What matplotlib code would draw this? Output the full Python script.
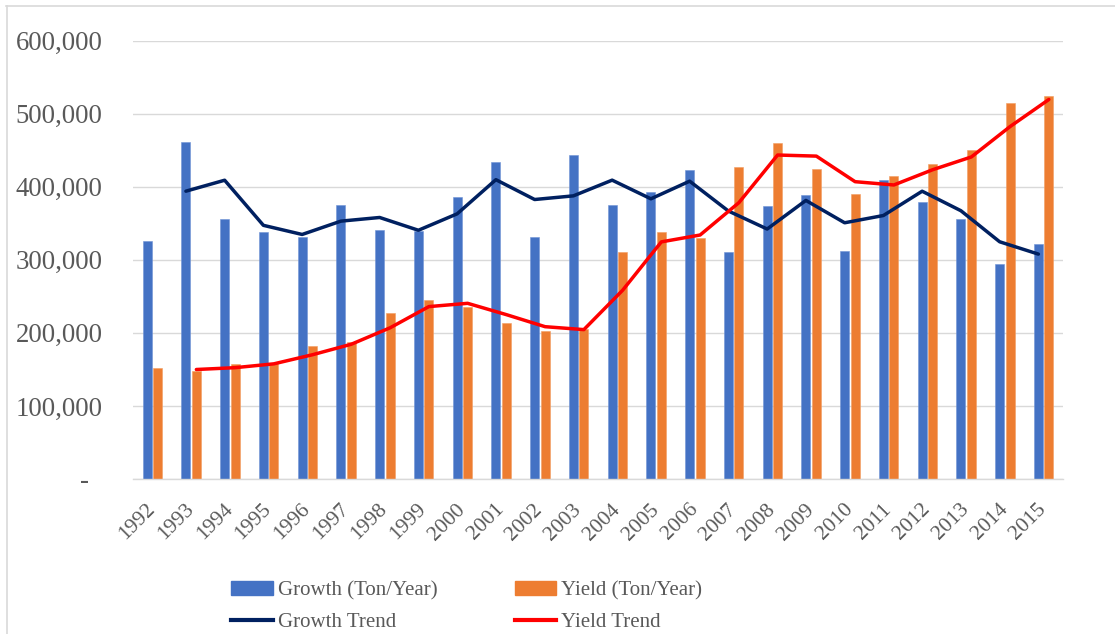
import matplotlib
matplotlib.use("Agg")
import matplotlib.pyplot as plt
from matplotlib.lines import Line2D
from matplotlib.ticker import FuncFormatter
import numpy as np
import pandas as pd

years = [str(y) for y in range(1992, 2016)]
growth = [326000, 462000, 356000, 338500, 331000, 375000, 341000, 340000,
          386000, 433500, 331700, 443500, 374700, 392400, 423000, 310700,
          373700, 389000, 312500, 408900, 379000, 355500, 294000, 321700]
yield_ = [152000, 147800, 157000, 158300, 182000, 187000, 227000, 245000,
          236000, 214000, 203000, 206000, 310700, 338500, 329500, 427000,
          460000, 424000, 390000, 415000, 431700, 450000, 515000, 524000]
y_ticks = [0, 100000, 200000, 300000, 400000, 500000, 600000]

# Excel 2-period moving-average trendlines
growth_trend = pd.Series(growth).rolling(2).mean().to_numpy()
yield_trend = pd.Series(yield_).rolling(2).mean().to_numpy()

W, H = 1115, 634
fig = plt.figure(figsize=(W / 100, H / 100), dpi=100)
ax = fig.add_axes([133 / W, 1 - 479 / H, (1063 - 133) / W, (479 - 40.7) / H])

serif = ["Liberation Serif", "DejaVu Serif"]
txt_col = "#595959"
blue, orange, navy, red = "#4472C4", "#ED7D31", "#002060", "#FF0000"

x = np.arange(len(years))
off, bw = 0.135, 0.235
ax.bar(x - off, growth, width=bw, color=blue, edgecolor="#6f93d6", linewidth=0.4, zorder=2)
ax.bar(x + off, yield_, width=bw, color=orange, edgecolor="#f29d62", linewidth=0.4, zorder=2)
ax.plot(x - off, growth_trend, color=navy, lw=2.5, zorder=3, solid_capstyle="round")
ax.plot(x + off, yield_trend, color=red, lw=2.5, zorder=3, solid_capstyle="round")

ax.set_xlim(-0.5, len(years) - 0.5)
ax.set_ylim(0, 600000)
ax.set_yticks(y_ticks)
ax.yaxis.set_major_formatter(FuncFormatter(lambda v, p: "-  " if v == 0 else f"{int(v):,}"))
ax.grid(axis="y", color="#D9D9D9", lw=1.0, zorder=0)
ax.set_axisbelow(True)
for s in ["top", "right", "left"]:
    ax.spines[s].set_visible(False)
ax.spines["bottom"].set_color("#D9D9D9")
ax.spines["bottom"].set_linewidth(1.0)
ax.tick_params(axis="both", length=0)
ax.tick_params(axis="y", pad=22)
for lab in ax.get_yticklabels():
    lab.set_fontfamily(serif)
    lab.set_fontsize(19.3)
    lab.set_color(txt_col)

ax.set_xticks(x)
ax.set_xticklabels(years, rotation=45, ha="right", va="center",
                   rotation_mode="anchor", fontfamily=serif, fontsize=15.5, color=txt_col)
ax.tick_params(axis="x", pad=20)

handles = [
    plt.Rectangle((0, 0), 1, 1, color=blue),
    Line2D([0], [0], color=navy, lw=3),
    plt.Rectangle((0, 0), 1, 1, color=orange),
    Line2D([0], [0], color=red, lw=3),
]
labels = ["Growth (Ton/Year)", "Growth Trend", "Yield (Ton/Year)", "Yield Trend"]
leg = fig.legend(handles, labels, ncol=2, loc="center left",
                 bbox_to_anchor=(231 / W, 1 - 606.5 / H), frameon=False,
                 prop={"family": serif, "size": 15}, handlelength=2.0,
                 handleheight=0.6, handletextpad=0.25, columnspacing=3.7,
                 labelspacing=0.6, borderpad=0, borderaxespad=0)
for t in leg.get_texts():
    t.set_color(txt_col)

# chart area border (top and left edges visible)
fig.add_artist(Line2D([6 / W, 1.0], [1 - 5.5 / H, 1 - 5.5 / H], color="#D9D9D9", lw=1.2))
fig.add_artist(Line2D([6.5 / W, 6.5 / W], [0, 1 - 5.5 / H], color="#D9D9D9", lw=1.2))

fig.savefig("out.png", dpi=100)
